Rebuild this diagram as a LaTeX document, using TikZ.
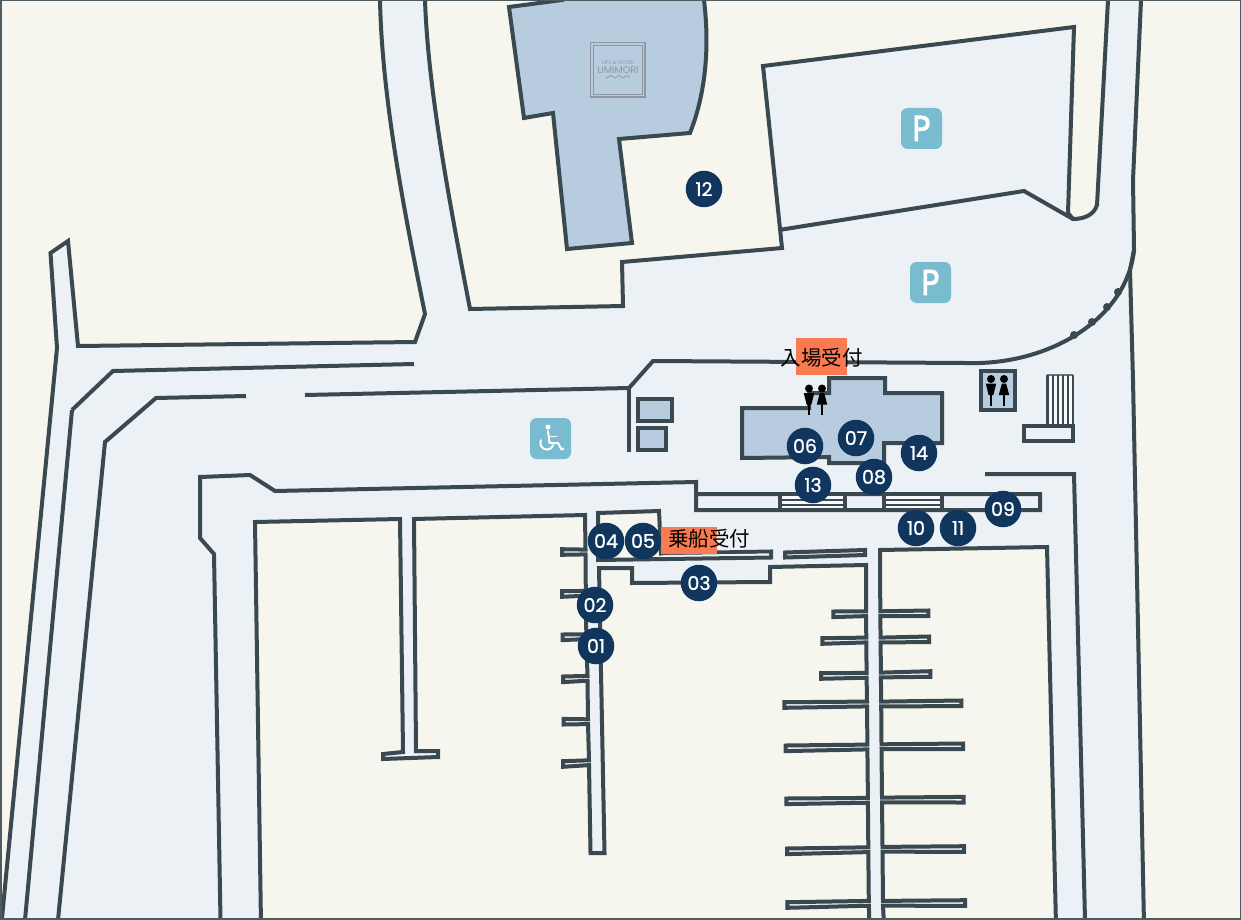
\documentclass[tikz,border=0pt]{standalone}
\usepackage{fontspec}
\setmainfont{Poppins}
\newfontfamily\jpfont{Noto Sans CJK JP}
\newfontfamily\numfont[FakeBold=1]{Poppins}
\newfontfamily\pfont[FakeBold=2.5,FakeStretch=0.85]{Poppins}
\definecolor{roadc}{HTML}{ECF1F6}
\definecolor{landc}{HTML}{F7F6EE}
\definecolor{wallc}{HTML}{3A494F}
\definecolor{buildc}{HTML}{B7CCDE}
\definecolor{spotc}{HTML}{11365E}
\definecolor{signc}{HTML}{7ABCCF}
\definecolor{recvc}{HTML}{FA7B52}
\definecolor{logoc}{HTML}{8E97A1}
\tikzset{
  wall/.style={draw=wallc,line width=4pt,line join=miter,miter limit=3},
  land/.style={wall,fill=landc},
  build/.style={wall,fill=buildc},
  strip/.style={wall,fill=roadc},
  thin wall/.style={draw=wallc,line width=2pt},
  spot/.style={circle,fill=spotc,minimum size=36.5pt,inner sep=0pt,text=white,font=\numfont\fontsize{19}{19}\selectfont},
  sign/.style={rounded corners=6.5pt,fill=signc,minimum size=41pt,inner sep=0pt,text=white,font=\pfont\fontsize{36}{36}\selectfont},
  recv/.style={fill=recvc,inner sep=0pt},
  recvtext/.style={inner sep=0pt,text=black,font=\jpfont\fontsize{20.5}{20.5}\selectfont},
  wcpic/.pic={
    \fill[black] (0,0) circle (4);
    \fill[black] (-5.2,4.6)--(5.2,4.6)--(2.4,16)--(-2.4,16)--cycle;
    \fill[black] (-1,15) rectangle (1,26.5);
    \fill[black] (13,0) circle (4);
    \fill[black] (10.8,4.6)--(15.2,4.6)--(18.2,16)--(7.8,16)--cycle;
    \fill[black] (12,15) rectangle (14,26.5);
  }
}
\begin{document}
\begin{tikzpicture}[x=1pt,y=-1pt]
\useasboundingbox (0,0) rectangle (1241,920);
\fill[roadc] (0,0) rectangle (1241,920);
% left land
\path[land] (-5,-5)--(380,-5)--(380,0) .. controls (382,100) and (405,215) .. (425,314)--(415,342)--(78,346)--(68,241)--(50.5,253)--(57,348)--(2,918)--(-5,925)--cycle;
% top land
\path[land] (425,-5)--(425,0) .. controls (428,90) and (450,205) .. (470,309)--(623,306)--(622,262)--(782,248)--(763,66)--(1074,27)--(1068,213)--(1073,219) .. controls (1084,219) and (1094,215) .. (1097,205)--(1108,0)--(1108,-5)--cycle;
\draw[wall] (779,230)--(1024,191)--(1073,219);
% right land
\path[land] (1141,-5)--(1141,0)--(1133,180)--(1134,250)--(1130,270)--(1133,380)--(1144,925)--(1246,925)--(1246,-5)--cycle;
% lower land with left spine and right spine
\path[land] (255,522)--(400,519)--(403,752)--(383,754)--(383,759)--(438,757)--(438,751)--(416,751)--(414,519)--(585,515)
  --(585.5,549.6)--(562,549.2)--(562,554.8)--(585.5,554.4)
  --(585.8,590.9)--(562,591.2)--(562,596.8)--(585.8,595.7)
  --(586.3,634.3)--(562.7,634.5)--(562.7,640.1)--(586.3,639.1)
  --(587.5,675.9)--(563,676.5)--(563,682.1)--(587.5,680.7)
  --(588,719.3)--(563.7,718.9)--(563.7,724.5)--(588,724.1)
  --(589,760.3)--(563,761.2)--(563,766.8)--(589,765.1)
  --(590.5,853)--(604.5,853)--(599,568)--(632,568)--(632,583)--(770,582)--(770,567)--(866,565)
  --(866,611.3)--(833.3,611.5)--(833.3,617.1)--(866,616.1)
  --(866.3,637.6)--(822.3,638.2)--(822.3,643.8)--(866.3,642.4)
  --(866.6,672.9)--(821,673.2)--(821,678.8)--(866.6,677.7)
  --(867,701.6)--(784.3,702.2)--(784.3,707.8)--(867,706.4)
  --(867.4,744.6)--(785.7,745.5)--(785.7,751.1)--(867.4,749.4)
  --(867.9,797.9)--(786.3,798.5)--(786.3,804.1)--(867.9,802.7)
  --(868.3,847.3)--(787,848.5)--(787,854.1)--(868.3,852.1)
  --(868.8,900.9)--(787.3,902.2)--(787.3,907.8)--(868.8,905.7)
  --(869.5,925)--(261,925)--cycle;
\path[land] (880,550)--(1047,547)--(1056,925)--(884,925)
  --(883,905.7)--(965,905.8)--(965,900.2)--(883,900.9)
  --(882.5,851.7)--(964,851.8)--(964,846.2)--(882.5,846.9)
  --(882,802.4)--(963.7,802.5)--(963.7,796.9)--(882,797.6)
  --(881.5,749.1)--(963,749.1)--(963,743.5)--(881.5,744.3)
  --(881.2,706.4)--(961.3,706.1)--(961.3,700.5)--(881.2,701.6)
  --(880.9,677.4)--(930.3,676.8)--(930.3,671.2)--(880.9,672.6)
  --(880.6,642.4)--(929,642.1)--(929,636.5)--(880.6,637.6)
  --(880.3,616.1)--(928.3,616.1)--(928.3,610.5)--(880.3,611.3)--cycle;
% short strips
\path[land] (598,513)--(659,511)--(661,553.5)--(771,551.5)--(771,557.5)--(598,560)--cycle;
\draw[roadc,line width=1.5pt] (663,555.8)--(769,554.3);
\path[strip] (785,552.5)--(865,550)--(865,555)--(785,557.5)--cycle;
% road lines
\draw[wall] (72,410)--(113,371)--(414,364);
\draw[wall] (25,920)--(72,410);
\draw[wall] (58,920)--(105,442)--(156,398)--(246,396);
\draw[wall] (305,395)--(629,388)--(653,361)--(965,363) .. controls (1050,366) and (1127,318) .. (1134,250);
\draw[wall] (629,388)--(629,452);
\draw[wall] (220.5,920)--(214,554)--(200,538)--(200,477)--(250,475)--(275,491)--(696,482)--(696,510)--(1040,510)--(1040,494)--(696,494);
\draw[wall] (985,474)--(1074,474)--(1085,920);
% stairs in the pier
\fill[white!60!roadc] (781,496) rectangle (845,508);
\fill[white!60!roadc] (884,496) rectangle (942,508);
\foreach \yy in {499.5,504.5}{
  \draw[thin wall] (781,\yy)--(845,\yy);
  \draw[thin wall] (884,\yy)--(942,\yy);
}
\draw[wall] (780,494)--(780,510) (845,494)--(845,510) (884,494)--(884,510) (942,494)--(942,510);
% bollards
\foreach \dx/\dy in {1118/292,1107/307,1092/322,1074/335}
  \fill[wallc] (\dx,\dy) circle (4);
% buildings
\path[build] (509,7)--(562,0)--(562,-5)--(704,-5)--(704,0) .. controls (710,50) and (705,95) .. (690,133)--(619,139)--(632,243)--(567,249)--(553,113)--(524,118)--cycle;
\path[build] (638,398.5) rectangle (671.5,421);
\path[build] (638,428) rectangle (666,450);
\path[build] (742,408)--(809,408)--(809,393)--(829,393)--(829,378)--(885,378)--(885,393)--(942,393)--(942,443)--(884,443)--(884,463)--(829,463)--(829,457)--(742,458)--cycle;
\path[build] (981,371) rectangle (1015,410);
% stairs by the toilets
\fill[white!60!roadc] (1047,375) rectangle (1073,425);
\draw[thin wall,draw=wallc!75!white] (1047,375)--(1073,375);
\foreach \xx in {1047.5,1053,1058,1063,1068}
  \draw[thin wall,line width=2.4pt] (\xx,375)--(\xx,425);
\draw[wall,line width=2.8pt] (1073,375)--(1073,425);
\path[strip] (1024,425.5)--(1073,425.5)--(1073,441)--(1024,441)--cycle;
% logo
\draw[logoc,line width=1.2pt] (590.5,42.5) rectangle (645,97);
\draw[logoc,line width=.9pt] (593,45) rectangle (642.5,94.5);
\node[inner sep=0,text=logoc,font=\fontsize{5.3}{6}\selectfont] (logoa) at (618,62.8) {LIFE \& HOTEL};
\node[inner sep=0,text=logoc,font=\fontsize{9.6}{10}\selectfont] (logob) at (618,70) {UMIMORI};
\draw[logoc,line width=.7pt] (606,78) .. controls (608,78) and (609,75.5) .. (611,75.5) .. controls (613,75.5) and (613,78) .. (615,78) .. controls (617,78) and (617,75.5) .. (619,75.5) .. controls (621,75.5) and (621,78) .. (623,78) .. controls (625,78) and (625,75.5) .. (627,75.5) .. controls (628.5,75.5) and (628.5,77.5) .. (630,77.5);
% signs
\node[sign] (p1) at (921.5,128.5) {P};
\node[sign] (p2) at (930.5,282.5) {P};
\node[sign] (hc) at (550.5,438.5) {};
\fill[white] (548,427) circle (2.5);
\draw[white,line width=2pt,line cap=round,line join=round] (548,431)--(549.5,443)--(558,443)--(561.5,449.5)--(563.5,448.5);
\draw[white,line width=1.8pt,line cap=round] (549,436.5)--(556.5,436.5);
\draw[white,line width=2pt,line cap=round] (541,440.2) arc[start angle=205,end angle=20,radius=6.6];
% reception
\node[recv,minimum width=51pt,minimum height=37pt] (r1) at (821.5,356.5) {};
\node[recv,minimum width=56pt,minimum height=27pt] (r2) at (689,540.5) {};
\node[recvtext] (r1t) at (821.5,358) {入場受付};
\node[recvtext] (r2t) at (709,539) {乗船受付};
% toilets
\pic at (809,388.5) {wcpic};
\pic at (991,379) {wcpic};
% spots
\node[spot] (s12) at (704,189) {12};
\node[spot] (s06) at (805,446) {06};
\node[spot] (s07) at (856,438) {07};
\node[spot] (s14) at (919,453) {14};
\node[spot] (s13) at (813,485) {13};
\node[spot] (s08) at (874,477) {08};
\node[spot] (s09) at (1003,509) {09};
\node[spot] (s10) at (916,528) {10};
\node[spot] (s11) at (958,528) {11};
\node[spot] (s04) at (606,541) {04};
\node[spot] (s05) at (643,541) {05};
\node[spot] (s03) at (699,583) {03};
\node[spot] (s02) at (595,605) {02};
\node[spot] (s01) at (596,646) {01};
% frame
\draw[wallc!90!white,line width=2pt] (0.5,0.5) rectangle (1240.5,918.5);
\end{tikzpicture}
\end{document}
